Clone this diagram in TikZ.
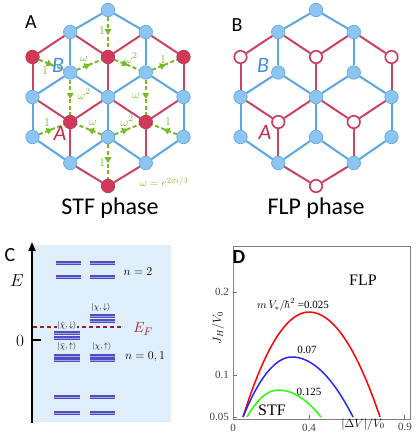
\documentclass[tikz,border=0pt]{standalone}
\usepackage{fontspec}
\setmainfont{Carlito}
\newfontfamily\tnr{Liberation Serif}
\usetikzlibrary{arrows.meta,decorations.markings}
\pgfdeclarelayer{bg}
\pgfsetlayers{bg,main}
\definecolor{bnode}{RGB}{140,196,242}
\definecolor{bline}{RGB}{92,166,226}
\definecolor{rnode}{RGB}{208,58,88}
\definecolor{rline}{RGB}{200,68,96}
\definecolor{gr}{RGB}{118,186,38}
\definecolor{lvc}{RGB}{78,78,192}
\definecolor{lvh}{RGB}{160,160,230}
\definecolor{cbg}{RGB}{222,238,250}
\definecolor{efc}{RGB}{150,30,45}
\definecolor{ltblue}{RGB}{70,140,225}
\definecolor{ltred}{RGB}{200,45,70}
\tikzset{
 bs/.style={circle, minimum size=13.5pt, inner sep=0pt, fill=bnode, draw=bline, line width=0.6pt},
 rs/.style={circle, minimum size=13.5pt, inner sep=0pt, fill=rnode, draw=rnode!85!black, line width=0.6pt},
 os/.style={circle, minimum size=12.5pt, inner sep=0pt, fill=white, draw=rnode, line width=1.6pt},
 bedge/.style={draw=bline, line width=2pt},
 redge/.style={draw=rline, line width=2pt},
 gedge/.style={draw=gr, line width=2pt, dash pattern=on 4pt off 2.5pt,
   postaction={decorate, decoration={markings, mark=at position 0.55 with {\arrow[gr]{Triangle[length=6pt,width=6.5pt]}}}}},
 glab/.style={text=gr, font=\fontsize{12.5}{14}\selectfont, inner sep=0pt},
 title/.style={font=\fontsize{24}{28}\selectfont, inner sep=0pt},
 plab/.style={font=\fontsize{20}{24}\selectfont, inner sep=0pt},
 sublab/.style={font=\fontsize{22}{26}\selectfont\itshape, inner sep=0pt},
 lvl/.style={draw=lvc, line width=3.6pt},
 lvlh/.style={draw=lvh, line width=0.8pt},
 ket/.style={font=\fontsize{8.5}{10}\selectfont, inner sep=0.5pt},
 tick/.style={draw=black!55, line width=0.7pt},
 tlab/.style={font=\tnr\fontsize{11}{13}\selectfont, text=black!75, inner sep=0pt},
 crv/.style={line width=1.5pt},
}
\newcommand{\lattice}[3]{%
 \foreach \c/\r/\yy/\s in {3/0/10/bs, 2/1/32/bs, 4/1/32/bs, 1/2/57/#3, 3/2/57/#3, 5/2/57/#3, 2/3/72.5/bs, 4/3/72.5/bs, 1/4/97/bs, 3/4/97/bs, 5/4/97/bs, 2/5/122/#3, 4/5/122/#3, 1/6/137/bs, 3/6/137/bs, 5/6/137/bs, 2/7/163/bs, 4/7/163/bs, 3/8/186/#3}{%
   \pgfmathsetmacro\xx{#2+(\c-3)*37.75}
   \node[\s] (#1\c\r) at (\xx,\yy) {};
 }%
 \begin{pgfonlayer}{bg}
 \foreach \a/\b in {30/21,30/41,21/23,41/43,23/14,23/34,43/34,43/54,14/16,34/36,54/56,16/27,36/27,36/47,56/47} \draw[bedge] (#1\a) -- (#1\b);
 \foreach \a/\b in {12/21,32/21,32/41,52/41,12/14,32/34,52/54,25/14,25/34,25/27,45/34,45/54,45/47,38/27,38/47} \draw[redge] (#1\a) -- (#1\b);
 \end{pgfonlayer}
}
\newcommand{\lv}[4]{% name, x1, x2, y
 \coordinate (#1a) at (#2,#4); \coordinate (#1b) at (#3,#4);
 \draw[lvl] (#1a) -- (#1b); \draw[lvlh] (#1a) -- (#1b);}
\begin{document}
\begin{tikzpicture}[x=1pt,y=-1pt]
\useasboundingbox (0,0) rectangle (416,441);
% ---------- Panel A ----------
\lattice{A}{108}{rs}
\begin{pgfonlayer}{bg}
\foreach \a/\b in {30/32, 12/23, 23/32, 32/43, 43/52, 23/25, 43/45, 16/25, 36/25, 36/45, 56/45, 36/38}
  \draw[gedge] (A\a) -- (A\b);
\end{pgfonlayer}
\node[glab] (g1) at (102,31) {$1$};
\node[glab] (g2) at (45,71) {$1$};
\node[glab] (g3) at (84,59) {$\omega$};
\node[glab] (g4) at (131,58) {$\omega^2$};
\node[glab] (g5) at (163,60) {$1$};
\node[glab] (g6) at (84,94) {$\omega^2$};
\node[glab] (g7) at (136,96) {$\omega$};
\node[glab] (g8) at (47,123) {$1$};
\node[glab] (g9) at (93,123) {$\omega$};
\node[glab] (g10) at (127,121) {$\omega^2$};
\node[glab] (g11) at (168,122) {$1$};
\node[glab] (g12) at (102,163) {$1$};
\node[glab, font=\fontsize{11}{13}\selectfont] (gw) at (164,182) {$\omega=e^{2\pi i/3}$};
\node[plab] (pa) at (31,22) {A};
\node[sublab, text=ltblue] (aB) at (58,65) {B};
\node[sublab, text=ltred] (aA) at (60,133) {A};
\node[title] (ta) at (110,208) {STF phase};
% ---------- Panel B ----------
\lattice{B}{316}{os}
\node[plab] (pb) at (237,25) {B};
\node[sublab, text=ltblue] (bB) at (263,65) {B};
\node[sublab, text=ltred] (bA) at (265,132) {A};
\node[title] (tb) at (316,208) {FLP phase};
% ---------- Panel C ----------
\fill[cbg] (33,245) rectangle (171,422);
\coordinate (cax0) at (32,423);
\coordinate (cax1) at (32,242);
\draw[line width=1.8pt, -{Triangle[length=9pt,width=7pt]}] (cax0) -- (cax1);
\coordinate (ct0) at (32,340); \coordinate (ct1) at (41,340);
\draw[line width=1.8pt] (ct0) -- (ct1);
\node[plab] (pc) at (10,255) {C};
\node[inner sep=0pt, font=\fontsize{19}{22}\selectfont] (cE) at (17,281) {$E$};
\node[inner sep=0pt, font=\fontsize{18}{22}\selectfont] (c0) at (20,341) {$0$};
\lv{l1}{56}{81}{263} \lv{l2}{90}{115}{263}
\lv{l3}{56}{81}{277} \lv{l4}{90}{115}{277}
\lv{l5}{90}{115}{316} \lv{l6}{90}{115}{321}
\lv{l7}{54}{80}{333} \lv{l8}{54}{80}{338}
\lv{l9}{54}{80}{356} \lv{l10}{54}{80}{360}
\lv{l11}{90}{115}{356} \lv{l12}{90}{115}{360}
\lv{l13}{54}{80}{397} \lv{l14}{90}{115}{397}
\lv{l15}{54}{80}{413} \lv{l16}{90}{115}{413}
\coordinate (ef0) at (33,327); \coordinate (ef1) at (124,327);
\draw[efc, line width=1.2pt, dash pattern=on 4pt off 3pt] (ef0) -- (ef1);
\node[ket] (k1) at (101,307) {$|\chi,\downarrow\rangle$};
\node[ket, fill=cbg] (k2) at (67,325) {$|\bar{\chi},\downarrow\rangle$};
\node[ket] (k3) at (67,346) {$|\bar{\chi},\uparrow\rangle$};
\node[ket] (k4) at (102,346) {$|\chi,\uparrow\rangle$};
\node[inner sep=0pt, text=efc, font=\fontsize{15}{18}\selectfont] (cef) at (143,329) {$E_F$};
\node[inner sep=0pt, font=\fontsize{12}{14}\selectfont] (cn2) at (138,272) {$n=2$};
\node[inner sep=0pt, font=\fontsize{12}{14}\selectfont] (cn01) at (145,357) {$n=0,1$};
% ---------- Panel D ----------
\draw[draw=black!50, line width=0.8pt] (233,246) rectangle (410,419);
\foreach \y/\n in {292/y2,375/y1,417/y05} {\coordinate (\n a) at (233,\y); \coordinate (\n b) at (237,\y); \draw[tick] (\n a) -- (\n b);}
\foreach \x/\n in {233/x0,309/x4,404/x9} {\coordinate (\n a) at (\x,419); \coordinate (\n b) at (\x,415); \draw[tick] (\n a) -- (\n b);}
\node[tlab, anchor=east] (ty2) at (229,292) {0.2};
\node[tlab, anchor=east] (ty1) at (229,375) {0.1};
\node[tlab, anchor=east] (ty05) at (229,417) {0.05};
\node[tlab] (tx0) at (233,428) {0};
\node[tlab] (tx4) at (309,428) {0.4};
\node[tlab] (tx9) at (405,427) {0.9};
\node[inner sep=0pt, font=\fontsize{12}{14}\selectfont, rotate=90] (dyl) at (218,328) {$J_H/V_0$};
\node[inner sep=0pt, font=\fontsize{12}{14}\selectfont] (dxl) at (363,424) {$|\Delta V|/V_0$};
\node[plab, font=\fontsize{20}{24}\selectfont\bfseries] (pd) at (239,257) {D};
\node[inner sep=0pt, font=\tnr\fontsize{16}{19}\selectfont] (dflp) at (363,280) {FLP};
\node[inner sep=0pt, font=\tnr\fontsize{16}{19}\selectfont] (dstf) at (272,410) {STF};
\node[inner sep=0pt, font=\tnr\fontsize{11}{12}\selectfont] (dm) at (293,305) {$m\,V_{*}/\hbar^2$ =0.025};
\node[inner sep=0pt, font=\tnr\fontsize{11}{12}\selectfont] (d07) at (307,350) {0.07};
\node[inner sep=0pt, font=\tnr\fontsize{11}{12}\selectfont] (d125) at (309,392) {0.125};
\draw[crv, red] (243,417) .. controls (265,347) and (287,312) .. (309,312)
   .. controls (332.7,312) and (356.3,347) .. (380,417);
\draw[crv, blue!85!white] (243,417) .. controls (259.3,377) and (275.7,357) .. (292,357)
   .. controls (312.3,357) and (332.7,377) .. (353,417);
\draw[crv, green!80!lime] (247,417) .. controls (257.3,399) and (267.7,390) .. (278,390)
   .. controls (292.3,390) and (306.7,399) .. (321,417);
\end{tikzpicture}
\end{document}
